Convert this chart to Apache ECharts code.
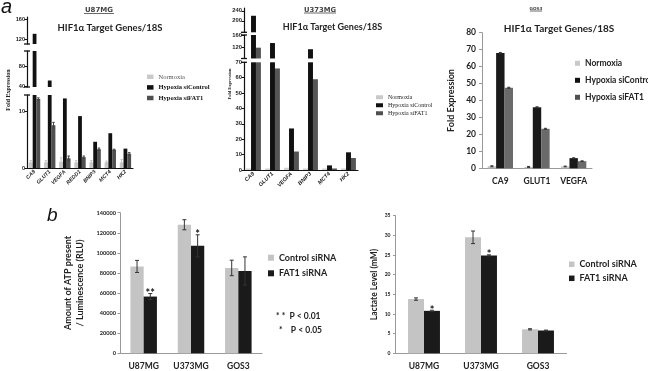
<!DOCTYPE html>
<html lang="en">
<head>
<meta charset="UTF-8">
<title>FAT1 / HIF1a figure</title>
<script src="https://cdn.jsdelivr.net/npm/echarts@6.0.0/dist/echarts.min.js"></script>
<style>html,body{margin:0;padding:0;background:#fff;}</style>
</head>
<body>
<div id="main" style="width:648px;height:371px;"></div>
<script type="text/javascript">
    // ---- panel a : U87MG ----
    var u87Genes = ['CA9', 'GLUT1', 'VEGFA', 'REDD1', 'BNIP3', 'MCT4', 'HK2'];
    var u87Normoxia = [1, 1, 1.1, 1, 1, 1, 1];
    var u87NormoxiaErr = [0.3, 0.3, 0.7, 0.3, 0.3, 0.2, 0.5];
    var u87SiControl = [131, 51, 12.2, 9.1, 4.6, 6.1, 3.4];
    var u87SiFAT1 = [12.1, 7.5, 1.7, 1.9, 3.3, 3.2, 2.5];
    var u87SiFAT1Err = [0.2, 0.5, 0.4, 0.2, 0.2, 0.1, 0.2];
    var u87TicksLow = [0, 10], u87TicksMid = [40, 80], u87TicksHigh = [120, 160];

    // ---- panel a : U373MG ----
    var u373Genes = ['CA9', 'GLUT1', 'VEGFA', 'BNIP3', 'MCT4', 'HK2'];
    var u373Normoxia = [1, 1, 1.5, 1, 1, 1];
    var u373SiControl = [220, 135, 27, 115, 3, 11.5];
    var u373SiFAT1 = [120, 66, 12, 59, 1, 7.8];
    var u373TicksLow = [0, 10, 20, 30, 40, 50, 60, 70], u373TicksMid = [120, 160], u373TicksHigh = [200, 240];

    // ---- panel a : GOS3 ----
    var gosGenes = ['CA9', 'GLUT1', 'VEGFA'];
    var gosNormoxia = [1.2, 0.8, 1.1];
    var gosSiControl = [68, 36, 6];
    var gosSiFAT1 = [47.5, 23.3, 4.2];
    var gosErr = [0.3, 0.3, 0.2];

    // ---- panel b ----
    var cellLines = ['U87MG', 'U373MG', 'GOS3'];
    var atpControl = [86500, 128000, 85000];
    var atpControlErr = [6000, 5000, 7700];
    var atpFat1 = [56500, 107000, 82000];
    var atpFat1Err = [3000, 11000, 14000];
    var atpStars = ['**', '*', ''];
    var lactateControl = [13.8, 29.5, 6.1];
    var lactateControlErr = [0.3, 1.6, 0.15];
    var lactateFat1 = [10.8, 24.9, 5.8];
    var lactateFat1Err = [0.15, 0.15, 0.1];
    var lactateStars = ['*', '*', ''];

    var grids = [], xAxes = [], yAxes = [], series = [];
    var plain = function (v) { return String(v); };

    function brokenAxisChart(c) {
        var ids = [];
        c.segments.forEach(function (seg, s) {
            var g = grids.length;
            ids.push(g);
            grids.push({left: c.left, top: seg.top, width: c.width, height: seg.height, outerBoundsMode: 'none'});
            xAxes.push({
                type: 'category', gridIndex: g, data: c.genes, show: s === 0,
                axisLine: {lineStyle: {color: '#111', width: 1.2}},
                axisTick: {show: false},
                axisLabel: {interval: 0, rotate: 45, margin: 3, fontSize: c.xFont, fontStyle: 'italic',
                    fontWeight: 'bold', color: '#222', fontFamily: 'Liberation Sans'}
            });
            yAxes.push({
                type: 'value', gridIndex: g, min: seg.min, max: seg.max,
                splitLine: {show: false},
                axisLine: {show: true, lineStyle: {color: '#111', width: 1.2},
                    symbol: [s > 0 ? 'rect' : 'none', s < c.segments.length - 1 ? 'rect' : 'none'],
                    symbolSize: [6, 1.3]},
                axisTick: {show: true, length: 2.5, lineStyle: {color: '#111'}, customValues: seg.ticks},
                axisLabel: {customValues: seg.ticks, fontSize: c.yFont, fontWeight: 'bold', color: '#222',
                    margin: 2, fontFamily: 'Liberation Sans', formatter: plain}
            });
            c.bars.forEach(function (b) {
                series.push({type: 'bar', name: b.name, xAxisIndex: g, yAxisIndex: g, data: b.data,
                    barWidth: c.barWidth, barGap: 0, silent: true, itemStyle: {color: b.color}});
            });
        });
        return ids;
    }

    // error bars (+ optional significance stars) for bar k of n in a group
    function errorSeries(g, values, errs, k, n, frac, color, capW, stars, starSize) {
        return {
            type: 'custom', xAxisIndex: g, yAxisIndex: g, z: 5, silent: true,
            data: values.map(function (v, i) { return [i, v, errs[i]]; }),
            renderItem: function (params, api) {
                var i = api.value(0), v = api.value(1), e = api.value(2);
                var band = api.size([1, 0])[0];
                var x = api.coord([i, v])[0] + (k - (n - 1) / 2) * frac * band;
                var top = api.coord([i, v + e])[1], bot = api.coord([i, v - e])[1];
                var ls = {stroke: color, lineWidth: 1};
                var ch = [
                    {type: 'line', shape: {x1: x, y1: top, x2: x, y2: bot}, style: ls},
                    {type: 'line', shape: {x1: x - capW / 2, y1: top, x2: x + capW / 2, y2: top}, style: ls},
                    {type: 'line', shape: {x1: x - capW / 2, y1: bot, x2: x + capW / 2, y2: bot}, style: ls}
                ];
                if (stars && stars[i]) {
                    ch.push({type: 'text', style: {text: stars[i], x: x, y: top, textAlign: 'center',
                        textVerticalAlign: 'middle', fill: '#111', font: 'bold ' + starSize + 'px Lato'}});
                }
                return {type: 'group', children: ch};
            }
        };
    }

    var u87 = brokenAxisChart({
        left: 27, width: 106, genes: u87Genes, barWidth: '25%', xFont: 5.3, yFont: 5.6,
        segments: [
            {top: 95, height: 73, min: 0, max: 12.8, ticks: u87TicksLow},
            {top: 51, height: 36, min: 38, max: 110, ticks: u87TicksMid},
            {top: 17, height: 27, min: 111, max: 164, ticks: u87TicksHigh}
        ],
        bars: [
            {name: 'Normoxia', data: u87Normoxia, color: '#c9c9c9'},
            {name: 'Hypoxia siControl', data: u87SiControl, color: '#111111'},
            {name: 'Hypoxia siFAT1', data: u87SiFAT1, color: '#505050'}
        ]
    });
    series.push(errorSeries(u87[0], u87Normoxia, u87NormoxiaErr, 0, 3, 0.25, '#c4c4c4', 2.5));
    series.push(errorSeries(u87[0], u87SiFAT1, u87SiFAT1Err, 2, 3, 0.25, '#444444', 2.5));

    var u373 = brokenAxisChart({
        left: 244, width: 114, genes: u373Genes, barWidth: '26%', xFont: 5.5, yFont: 5.8,
        segments: [
            {top: 62.3, height: 107.7, min: 0, max: 70, ticks: u373TicksLow},
            {top: 35, height: 23.5, min: 85, max: 161, ticks: u373TicksMid},
            {top: 8, height: 24.3, min: 154, max: 251, ticks: u373TicksHigh}
        ],
        bars: [
            {name: 'Normoxia', data: u373Normoxia, color: '#d0d0d0'},
            {name: 'Hypoxia siControl', data: u373SiControl, color: '#111111'},
            {name: 'Hypoxia siFAT1', data: u373SiFAT1, color: '#555555'}
        ]
    });

    // GOS3 (plain axis)
    var lato = 'Lato';
    var gGos = grids.length;
    grids.push({left: 482, top: 32.7, width: 110, height: 135.6, outerBoundsMode: 'none'});
    xAxes.push({type: 'category', gridIndex: gGos, data: gosGenes,
        axisLine: {lineStyle: {color: '#999'}}, axisTick: {show: false},
        axisLabel: {fontSize: 8.5, fontWeight: 'bold', color: '#222', fontFamily: lato, margin: 8}});
    yAxes.push({type: 'value', gridIndex: gGos, min: 0, max: 80, interval: 10,
        name: 'Fold Expression', nameLocation: 'middle', nameGap: 26,
        nameTextStyle: {fontSize: 9, fontWeight: 'bold', color: '#222', fontFamily: lato},
        splitLine: {show: false},
        axisLine: {show: true, lineStyle: {color: '#999'}},
        axisTick: {show: true, length: 3, lineStyle: {color: '#999'}},
        axisLabel: {fontSize: 8.5, fontWeight: 'bold', color: '#222', fontFamily: lato, margin: 6}});
    [['Normoxia', gosNormoxia, '#c4c4c4'], ['Hypoxia siControl', gosSiControl, '#1a1a1a'],
        ['Hypoxia siFAT1', gosSiFAT1, '#6a6a6a']].forEach(function (b) {
        series.push({type: 'bar', name: b[0], xAxisIndex: gGos, yAxisIndex: gGos, data: b[1],
            barWidth: '23%', barGap: 0, silent: true, itemStyle: {color: b[2]}});
    });
    series.push(errorSeries(gGos, gosNormoxia, gosErr, 0, 3, 0.23, '#333', 3));
    series.push(errorSeries(gGos, gosSiControl, gosErr, 1, 3, 0.23, '#333', 3));
    series.push(errorSeries(gGos, gosSiFAT1, gosErr, 2, 3, 0.23, '#333', 3));

    // panel b helper
    function barPanel(box, yOpt, ctrl, ctrlErr, fat, fatErr, stars) {
        var g = grids.length;
        grids.push({left: box[0], top: box[1], width: box[2], height: box[3], outerBoundsMode: 'none'});
        xAxes.push({type: 'category', gridIndex: g, data: cellLines,
            axisLine: {lineStyle: {color: '#999'}}, axisTick: {show: false},
            axisLabel: {fontSize: 8.5, fontWeight: 'bold', color: '#222', fontFamily: lato, margin: 8}});
        yAxes.push(Object.assign({type: 'value', gridIndex: g, nameLocation: 'middle',
            splitLine: {show: false},
            axisLine: {show: true, lineStyle: {color: '#999'}},
            axisTick: {show: true, length: 2.5, lineStyle: {color: '#999'}}}, yOpt));
        series.push({type: 'bar', name: 'Control siRNA', xAxisIndex: g, yAxisIndex: g, data: ctrl,
            barWidth: '28%', barGap: 0, silent: true, itemStyle: {color: '#c4c4c4'}});
        series.push({type: 'bar', name: 'FAT1 siRNA', xAxisIndex: g, yAxisIndex: g, data: fat,
            barWidth: '28%', barGap: 0, silent: true, itemStyle: {color: '#1a1a1a'}});
        series.push(errorSeries(g, ctrl, ctrlErr, 0, 2, 0.28, '#333', 4));
        series.push(errorSeries(g, fat, fatErr, 1, 2, 0.28, '#333', 4, stars, 11));
    }

    barPanel([120, 212.7, 142, 140.6], {
        min: 0, max: 140000, interval: 20000,
        name: 'Amount of ATP present\n/ Luminescence (RLU)', nameGap: 34,
        nameTextStyle: {fontSize: 9, fontWeight: 'bold', color: '#222', fontFamily: lato, lineHeight: 12},
        axisLabel: {fontSize: 5.6, color: '#222', fontFamily: lato, fontWeight: 'bold', margin: 4, formatter: plain}
    }, atpControl, atpControlErr, atpFat1, atpFat1Err, atpStars);

    barPanel([395.5, 215.7, 171, 137.6], {
        min: 0, max: 35, interval: 5,
        name: 'Lactate Level (mM)', nameGap: 17,
        nameTextStyle: {fontSize: 8.5, fontWeight: 'bold', color: '#222', fontFamily: lato},
        axisLabel: {fontSize: 5, color: '#222', fontFamily: lato, fontWeight: 'bold', margin: 5, formatter: plain}
    }, lactateControl, lactateControlErr, lactateFat1, lactateFat1Err, lactateStars);

    var hifNames = ['Normoxia', 'Hypoxia siControl', 'Hypoxia siFAT1'];
    var bNames = ['Control siRNA', 'FAT1 siRNA'];
    var legends = [
        {left: 147, top: 73, orient: 'vertical', icon: 'rect', itemWidth: 6.5, itemHeight: 4.5, itemGap: 3, padding: 0,
            selectedMode: false,
            data: [{name: 'Normoxia', textStyle: {fontWeight: 'normal', color: '#555'}}, hifNames[1], hifNames[2]],
            textStyle: {fontFamily: 'Liberation Serif', fontSize: 6.5, fontWeight: 'bold', color: '#111', lineHeight: 7.6}},
        {left: 376, top: 94, orient: 'vertical', icon: 'rect', itemWidth: 7, itemHeight: 4, itemGap: 1.5, padding: 0,
            selectedMode: false, data: hifNames,
            textStyle: {fontFamily: 'Liberation Serif', fontSize: 6, color: '#222', lineHeight: 6.5}},
        {left: 575, top: 58.3, orient: 'vertical', icon: 'rect', itemWidth: 5, itemHeight: 5, itemGap: 7, padding: 0,
            selectedMode: false, data: hifNames,
            textStyle: {fontFamily: lato, fontSize: 8.5, fontWeight: 'bold', color: '#222', lineHeight: 10}},
        {left: 268, top: 252.7, orient: 'vertical', icon: 'rect', itemWidth: 6, itemHeight: 6, itemGap: 5.6, padding: 0,
            selectedMode: false, data: bNames,
            textStyle: {fontFamily: lato, fontSize: 9, fontWeight: 'bold', color: '#222', lineHeight: 10}},
        {left: 569, top: 259.3, orient: 'vertical', icon: 'rect', itemWidth: 5.5, itemHeight: 5.5, itemGap: 4, padding: 0,
            selectedMode: false, data: bNames,
            textStyle: {fontFamily: lato, fontSize: 9, fontWeight: 'bold', color: '#222', lineHeight: 10}}
    ];

    function txt(x, y, text, font, opt) {
        opt = opt || {};
        return {type: 'text', x: x, y: y, rotation: opt.rotation || 0, silent: true,
            style: {text: text, font: font, fill: opt.fill || '#222', textAlign: opt.align || 'center',
                textVerticalAlign: 'middle'}};
    }
    function rule(x1, x2, y) {
        return {type: 'line', silent: true, shape: {x1: x1, y1: y, x2: x2, y2: y}, style: {stroke: '#444', lineWidth: 0.8}};
    }

    var graphics = [
        txt(1, 7, 'a', 'italic 20px Liberation Sans', {align: 'left', fill: '#111'}),
        txt(47, 216, 'b', 'italic 19px Liberation Sans', {align: 'left', fill: '#111'}),
        txt(99, 10, 'U87MG', 'bold 7px DejaVu Sans', {fill: '#444'}), rule(84, 114, 13.5),
        txt(320, 10, 'U373MG', 'bold 6.8px DejaVu Sans', {fill: '#444'}), rule(304, 336, 13),
        txt(536, 9, 'GOS3', 'bold 4.2px DejaVu Sans', {fill: '#444'}), rule(530, 542, 11),
        txt(110, 27.5, 'HIF1α Target Genes/18S', 'bold 9.5px Lato', {fill: '#222'}),
        txt(332.5, 27.5, 'HIF1α Target Genes/18S', 'bold 9px Lato', {fill: '#222'}),
        txt(559, 29, 'HIF1α Target Genes/18S', 'bold 10px Lato', {fill: '#222'}),
        txt(8, 90, 'Fold Expression', 'bold 6px Liberation Serif', {rotation: Math.PI / 2}),
        txt(230, 84, 'Fold Expression', 'bold 4.5px Liberation Serif', {rotation: Math.PI / 2}),
        txt(276, 316, '* *  P < 0.01', 'bold 8.5px Lato', {align: 'left'}),
        txt(279, 330, '*    P < 0.05', 'bold 8.5px Lato', {align: 'left'})
    ];

    var option = {
        animation: false,
        backgroundColor: '#fff',
        grid: grids,
        xAxis: xAxes,
        yAxis: yAxes,
        legend: legends,
        graphic: graphics,
        series: series
    };

    var myChart = echarts.init(document.getElementById('main'));
    myChart.setOption(option);
</script>
</body>
</html>
